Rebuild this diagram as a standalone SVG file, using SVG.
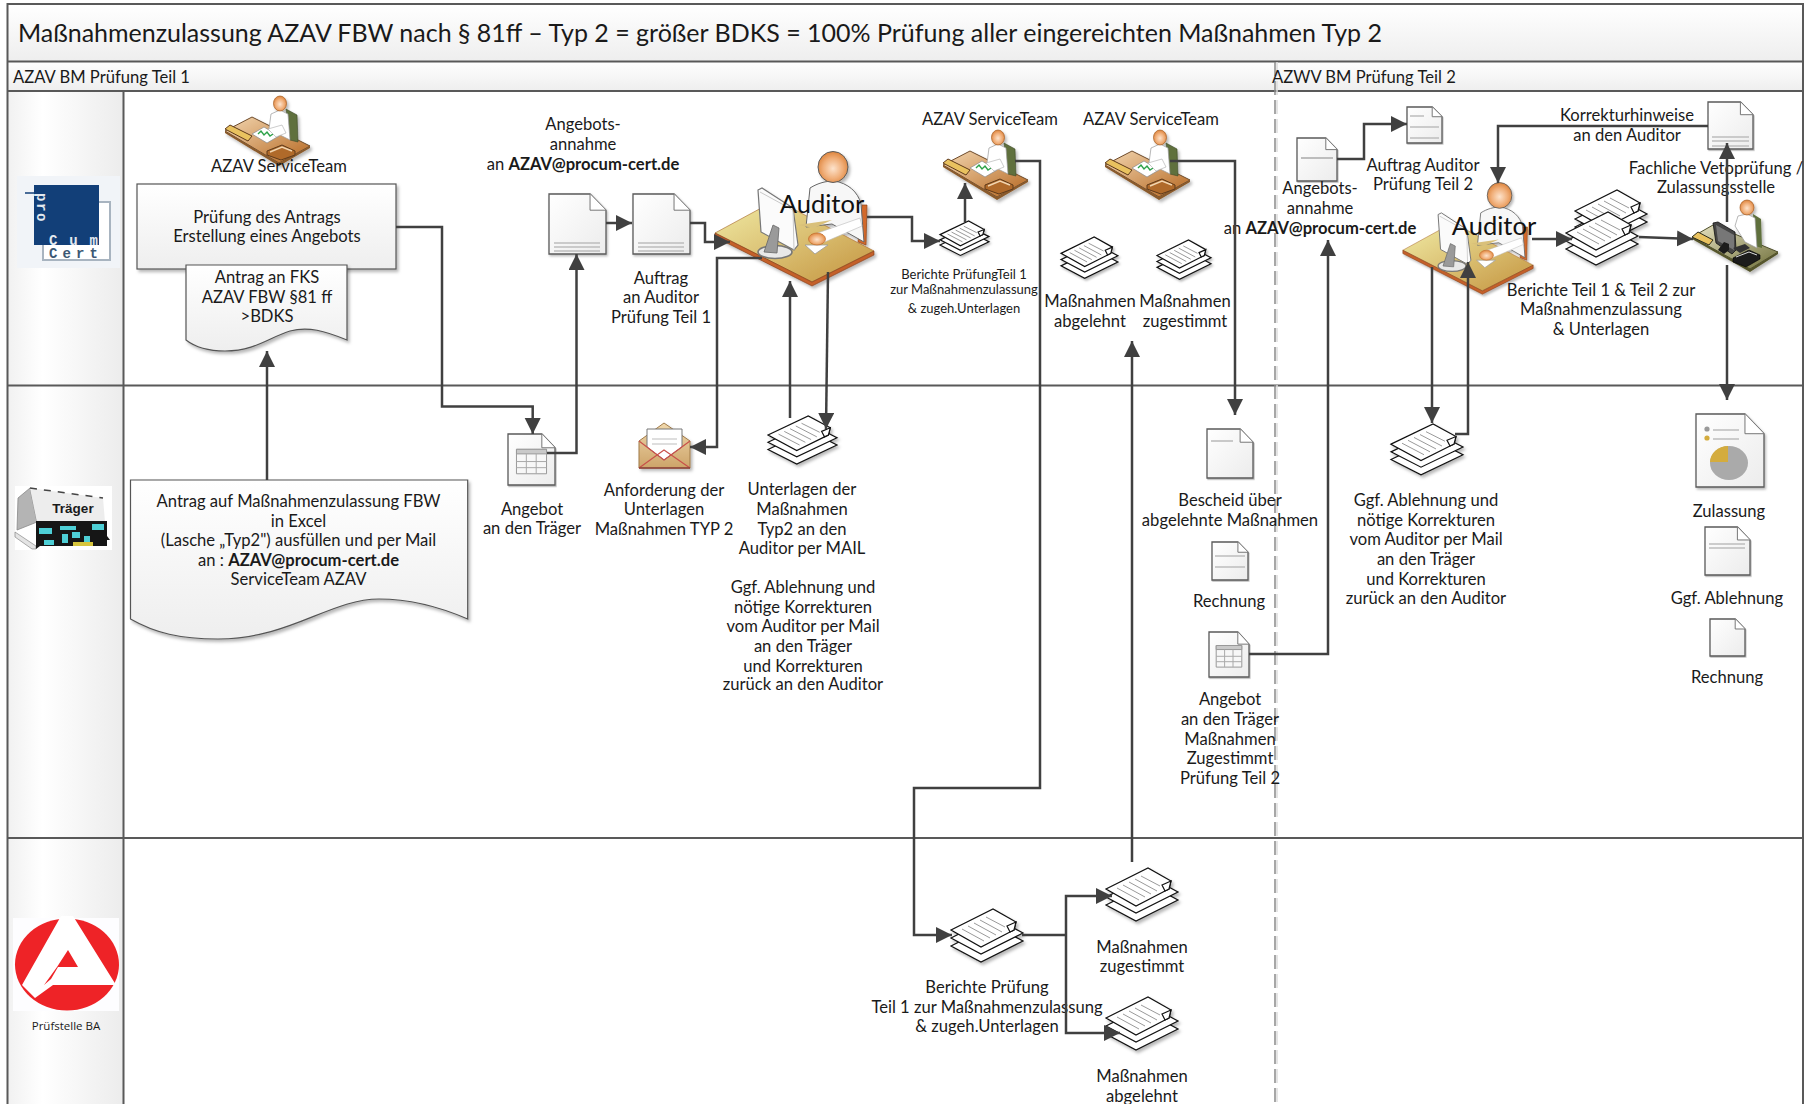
<svg xmlns="http://www.w3.org/2000/svg" width="1809" height="1104" viewBox="0 0 1809 1104">
<style>
text{font-family:Lato,"Open Sans","Liberation Sans",sans-serif;fill:#1a1a1a;font-size:16.6px;text-anchor:middle}
.l{text-anchor:start}
.b{font-weight:700}
.s{font-size:13px}
.au{font-size:25.5px;fill:#111}
.lane{fill:none;stroke:#595959;stroke-width:2}
.c{fill:none;stroke:#404040;stroke-width:2.5;marker-end:url(#ah)}
.n{fill:none;stroke:#404040;stroke-width:2.5}
.pg{fill:url(#gPage);stroke:#5a5a5a;stroke-width:1.3;vector-effect:non-scaling-stroke}
.fd{fill:#fff;stroke:#777;stroke-width:1;vector-effect:non-scaling-stroke}
.ln{stroke:#bdbdbd;stroke-width:2;vector-effect:non-scaling-stroke;fill:none}
.sh{stroke:#111;stroke-width:1.2;fill:#fff;vector-effect:non-scaling-stroke}
.sl{stroke:#9a9a9a;stroke-width:1;fill:none;vector-effect:non-scaling-stroke}
.ds{filter:url(#shadow)}
</style>
<defs>
<linearGradient id="gBar" x1="0" y1="0" x2="0" y2="1"><stop offset="0" stop-color="#fff"/><stop offset="1" stop-color="#eee"/></linearGradient>
<linearGradient id="gCol" x1="0" y1="0" x2="1" y2="0"><stop offset="0" stop-color="#f1f1f1"/><stop offset=".3" stop-color="#fff"/><stop offset="1" stop-color="#ececec"/></linearGradient>
<linearGradient id="gPage" x1="0" y1="0" x2="1" y2="1"><stop offset="0" stop-color="#fff"/><stop offset="1" stop-color="#ececec"/></linearGradient>
<linearGradient id="gDesk" x1="0" y1="0" x2="1" y2="1"><stop offset="0" stop-color="#f2d6b0"/><stop offset="1" stop-color="#b5661f"/></linearGradient>
<linearGradient id="gDeskA" x1="0" y1="0" x2="1" y2="1"><stop offset="0" stop-color="#f1eca6"/><stop offset="1" stop-color="#c4943f"/></linearGradient>
<linearGradient id="gDeskZ" x1="0" y1="0" x2="1" y2="1"><stop offset="0" stop-color="#e8e4c4"/><stop offset="1" stop-color="#6f6f3a"/></linearGradient>
<radialGradient id="gHead" cx=".5" cy=".55" r=".6"><stop offset="0" stop-color="#fde3cc"/><stop offset=".55" stop-color="#f0ae78"/><stop offset="1" stop-color="#d97a2e"/></radialGradient>
<linearGradient id="gEnv" x1="0" y1="0" x2="0" y2="1"><stop offset="0" stop-color="#f0d8ac"/><stop offset="1" stop-color="#cda469"/></linearGradient>
<filter id="shadow" x="-15%" y="-15%" width="135%" height="135%"><feDropShadow dx="2" dy="2.5" stdDeviation="1.5" flood-color="#000" flood-opacity=".28"/></filter>
<marker id="ah" markerUnits="userSpaceOnUse" markerWidth="18" markerHeight="17" refX="16" refY="8" orient="auto-start-reverse"><path d="M0 0L16 8L0 16Z" fill="#404040"/></marker>

<g id="page"><path class="pg" d="M0 0H72L100 27V100H0Z"/><path class="fd" d="M72 0V27H100"/></g>

<g id="stack">
<path class="sh" d="M0 37L42 16L72 32L30 53Z"/>
<path class="sh" d="M0 29L42 8L72 24L30 45Z"/>
<path class="sh" d="M0 21L42 0L65 13L63 21L59 23L30 38Z"/>
<path class="sh" d="M65 13L56 17L59 23L63 21Z"/>
<path class="sl" d="M11 20L33 32M17 17L39 29M23 14L45 26M29 11L51 23M35 8L54 18"/>
</g>

<g id="service">
<path d="M3 35L30 21L88 50L57 67Z" fill="url(#gDesk)" stroke="#6d4a2b" stroke-width="1"/>
<path d="M3 35L57 67L88 50L88 52L57 70L3 37Z" fill="#8a5a2b"/>
<path d="M64 13L75 19L76 46L68 44Z" fill="#5f6f3c" stroke="#3d4a28" stroke-width=".6"/>
<path d="M47 33L49 18L58 14L66 18L68 44L60 40Z" fill="#fff" stroke="#9a9a9a" stroke-width=".7"/>
<ellipse cx="58" cy="7.5" rx="6.5" ry="7.5" fill="url(#gHead)" stroke="#a35a1e" stroke-width=".7"/>
<path d="M3 33L8 29L30 40L26 45Z" fill="#e9c25f" stroke="#5e3a1a" stroke-width="1"/>
<path d="M30 38L42 31L57 40L45 47Z" fill="#fff" stroke="#888" stroke-width=".7"/>
<path d="M36 38L39 35L42 39L45 36L48 40L51 38" fill="none" stroke="#2da24a" stroke-width="1.4"/>
<path d="M46 33L60 29L64 37L54 41Z" fill="#fff" stroke="#aaa" stroke-width=".6"/>
<path d="M45 55L60 49L73 55L73 59L59 64L45 59Z" fill="#b06a2c" stroke="#5e3a1a" stroke-width="1"/>
<path d="M48 56L60 51L70 55" fill="none" stroke="#f2d6b0" stroke-width="1.4"/>
</g>

<g id="auditor">
<path d="M148 53L153 53L152 93L144 90Z" fill="#d2692c" stroke="#8d4418" stroke-width=".7"/>
<path d="M1 81L62 48L160 99L98 130Z" fill="url(#gDeskA)" stroke="#a5642a" stroke-width=".6"/>
<path d="M1 81L98 130L160 99L160 103L98 134L1 85Z" fill="#c4602a" stroke="#7d3b16" stroke-width=".6"/>
<path d="M92 75L96 36C104 31 112 29 120 29C134 31 144 40 147 52L150 90L118 72Z" fill="#f7f7f7" stroke="#666" stroke-width="1"/>
<path d="M84 73L118 68L100 76Z" fill="#d9c07a"/>
<path d="M146 66L148 74L106 92L98 83Z" fill="#fff" stroke="#bbb" stroke-width=".6"/>
<ellipse cx="119" cy="15" rx="15" ry="15.5" fill="url(#gHead)" stroke="#5b5b5b" stroke-width="1"/>
<path d="M91 93L114 93L101 102Z" fill="#fff" stroke="#999" stroke-width=".8"/>
<ellipse cx="103" cy="87" rx="8.5" ry="6" fill="url(#gHead)" stroke="#c26a2a" stroke-width=".7"/>
<ellipse cx="61" cy="100" rx="17" ry="6.5" fill="#e8e8e8" stroke="#777" stroke-width="1.6"/>
<path d="M44 38L48 36L79 56L84 93L80 98L47 80Z" fill="#fbfbfb" stroke="#777" stroke-width="1.2"/>
<path d="M46 40L79 58L80 98" fill="none" stroke="#c9c9c9" stroke-width="1"/>
<path d="M50 100L59 73L65 76L63 101Z" fill="#9a9a9a" stroke="#666" stroke-width=".8"/>
</g>

<g id="zul">
<path d="M1 37L22 25L87 52L59 69Z" fill="url(#gDeskZ)" stroke="#4d4d2a" stroke-width="1"/>
<path d="M1 37L59 69L87 52L87 54L59 72L1 39Z" fill="#55552c"/>
<path d="M62 14L70 19L71 48L64 46Z" fill="#5f6f3c"/>
<path d="M44 26L47 16L56 14L64 18L66 48L54 42Z" fill="#fff" stroke="#9a9a9a" stroke-width=".7"/>
<ellipse cx="56" cy="7.5" rx="7" ry="7.5" fill="url(#gHead)" stroke="#a35a1e" stroke-width=".7"/>
<path d="M1 37L7 32L22 40L18 45Z" fill="#e9c25f" stroke="#2a2a18" stroke-width="1"/>
<path d="M22 23L27 22L44 32L45 50L41 54L25 43Z" fill="#444" stroke="#111" stroke-width=".8"/>
<path d="M25 25L43 35L43 50L27 41Z" fill="#777"/>
<path d="M27 50L33 42L38 44L38 50L33 54Z" fill="#1a1a1a"/>
<path d="M42 48L54 44L59 48L49 53Z" fill="#333"/>
<path d="M42 58L58 50L69 55L69 59L55 67L42 62Z" fill="#1c1c1c" stroke="#000" stroke-width=".6"/>
<path d="M45 57L58 52L66 55" fill="none" stroke="#ddd" stroke-width="1"/>
</g>

<g id="grid"><rect x="18" y="30" width="64" height="48" fill="#f7f7f7" stroke="#999" vector-effect="non-scaling-stroke"/><rect x="18" y="30" width="64" height="9" fill="#c9c9c9" stroke="#999" vector-effect="non-scaling-stroke"/><path d="M18 54H82M18 66H82M39 39V78M60 39V78" stroke="#aaa" fill="none" vector-effect="non-scaling-stroke"/></g>
</defs>

<rect width="1809" height="1104" fill="#fff"/>

<g id="frame">
<rect x="7.5" y="4" width="1795.5" height="57.5" fill="url(#gBar)"/>
<rect x="7.5" y="61.5" width="1795.5" height="29.5" fill="url(#gBar)"/>
<rect x="7.5" y="91" width="116" height="1013" fill="url(#gCol)"/>
<path class="lane" d="M7.5 1104V4H1803V1104M7.5 61.5H1803M7.5 91H1803M123.5 91V1104M7.5 385.5H1803M7.5 838H1803"/>
<path d="M1277 62V1104" stroke="#ddd" stroke-width="1.5" stroke-dasharray="14 5" fill="none"/>
<path d="M1275 62V1104" stroke="#8a8a8a" stroke-width="1.5" stroke-dasharray="14 5" fill="none"/>
<text class="l" x="18" y="42" style="font-size:25.2px" textLength="1364" lengthAdjust="spacingAndGlyphs">Maßnahmenzulassung AZAV FBW nach § 81ff – Typ 2 = größer BDKS = 100% Prüfung aller eingereichten Maßnahmen Typ 2</text>
<text class="l" x="13" y="82.5">AZAV BM Prüfung Teil 1</text>
<text class="l" x="1272" y="82.5">AZWV BM Prüfung Teil 2</text>
</g>

<g id="logo-procum">
<rect x="17" y="176" width="103" height="92" fill="#f1f4f8"/>
<path d="M99 202H110V260H43V245" fill="#fff" stroke="#a8b4c0" stroke-width="2"/>
<rect x="34" y="185" width="65" height="60" fill="#123f78"/>
<path d="M25 193H35" stroke="#123f78" stroke-width="1.5"/>
<text transform="translate(37 193) rotate(90)" class="l b" style="font-size:14px;fill:#e3e9f0;letter-spacing:1.5px;font-family:'Liberation Mono',monospace" textLength="30">pro</text>
<text class="l b" x="49" y="245" style="font-family:'Liberation Mono',monospace;font-size:14px;fill:#e3e9f0" textLength="49">Cum</text>
<text class="l b" x="49" y="258" style="font-family:'Liberation Mono',monospace;font-size:14px;fill:#3c5874" textLength="49">Cert</text>
</g>

<g id="logo-traeger">
<rect x="15" y="486" width="97" height="64" fill="#fff"/>
<path d="M18 498L30 488L37 522L17 530Z" fill="#b4b4b4" stroke="#888" stroke-width=".8"/>
<path d="M30 488L103 498L105 522L37 522Z" fill="#ededed"/>
<path d="M30 488L103 498" stroke="#444" stroke-width="1.5" stroke-dasharray="7 7" fill="none"/>
<path d="M15 532L36 546L36 549H32L15 537Z" fill="#e4e4e4" stroke="#777" stroke-width=".6"/>
<path d="M36 521H107V536L110 540H107V546H40L36 549Z" fill="#161616"/>
<path d="M39 528H52V534H39ZM60 526H76V530H60ZM62 534H68V543H62ZM72 532H80V538H72ZM92 524H104V530H92ZM84 536H90V542H84ZM44 540H54V545H44Z" fill="#4ecfd6"/>
<path d="M73 542H93V546H73Z" fill="#d6c43c"/>
<text class="b" x="73" y="513" style="font-size:13.5px;font-family:'Liberation Sans',sans-serif">Träger</text>
</g>

<g id="logo-ba">
<rect x="13" y="918" width="106" height="93" fill="#fdfdff"/>
<ellipse cx="67" cy="964.5" rx="52" ry="46" fill="#ee2327"/>
<path d="M61 916H73L116 985H53L35 998L22 985Z" fill="#fff"/>
<path d="M68 950L78 967H58L51 979L44 985L57 967Z" fill="#ee2327"/>
<text x="66" y="1030" style="font-size:11.5px;font-family:'Open Sans',sans-serif">Prüfstelle BA</text>
</g>

<g id="n-service1"><use href="#service" transform="translate(222 96)" class="ds"/><text x="279" y="172">AZAV ServiceTeam</text></g>

<g id="n-pruefung"><rect x="137" y="184" width="259" height="85" fill="url(#gBar)" stroke="#555" stroke-width="1.2" class="ds"/><text x="267" y="223">Prüfung des Antrags</text><text x="267" y="242">Erstellung eines Angebots</text></g>

<g id="n-antrag-fks"><path d="M186 265H347V340C325 331 308 326 290 331C270 337 255 351 225 351C208 351 195 347 186 340Z" fill="url(#gBar)" stroke="#555" stroke-width="1.2" class="ds"/><text x="267" y="283">Antrag an FKS</text><text x="267" y="303">AZAV FBW §81 ff</text><text x="267" y="322">&gt;BDKS</text></g>

<g id="n-antrag"><path d="M130.5 480H467.7V619C440 607 410 599 379 599C330 599 290 639 218 639C180 639 155 633 130.5 619Z" fill="url(#gBar)" stroke="#555" stroke-width="1.2" class="ds"/><text x="298.5" y="507">Antrag auf Maßnahmenzulassung FBW</text><text x="298.5" y="527">in Excel</text><text x="298.5" y="546">(Lasche „Typ2")  ausfüllen und per Mail</text><text x="298.5" y="566">an : <tspan class="b">AZAV@procum-cert.de</tspan></text><text x="298.5" y="585">ServiceTeam AZAV</text></g>

<g id="n-annahme1"><use href="#page" class="ds" transform="translate(549 194) scale(.57 .6)"/><path class="ln" d="M554 243H600M554 247H600M554 251H600" style="stroke-width:1.3"/><text x="583" y="130">Angebots-</text><text x="583" y="150">annahme</text><text x="583" y="170">an <tspan class="b">AZAV@procum-cert.de</tspan></text></g>

<g id="n-auftrag1"><use href="#page" class="ds" transform="translate(633 194) scale(.57 .6)"/><path class="ln" d="M638 243H684M638 247H684M638 251H684" style="stroke-width:1.3"/><text x="661" y="284">Auftrag</text><text x="661" y="303">an Auditor</text><text x="661" y="323">Prüfung Teil 1</text></g>

<g id="n-angebot1"><use href="#page" class="ds" transform="translate(508 434) scale(.47 .51)"/><use href="#grid" transform="translate(508 434) scale(.47 .51)"/><text x="532" y="515">Angebot</text><text x="532" y="534">an den Träger</text></g>

<g id="n-anforderung"><path d="M639 441L664 423L690 441V468H639Z" fill="url(#gEnv)" stroke="#a07a48" class="ds"/><path d="M647 429H682V447L664 460L647 447Z" fill="#fff" stroke="#777"/><path class="ln" d="M652 439H677M652 444H677" style="stroke-width:1.2"/><path d="M639 441L664 460L690 441M639 468L664 450L690 468" fill="none" stroke="#c9504a" stroke-width="1.2"/><path d="M639 468H690" stroke="#8d3f38" stroke-width="1.5"/><text x="664" y="496">Anforderung der</text><text x="664" y="515">Unterlagen</text><text x="664" y="535">Maßnahmen TYP 2</text></g>

<g id="n-unterlagen"><use href="#stack" class="ds" transform="translate(768 416) scale(.958 .907)"/><text x="802" y="495">Unterlagen der</text><text x="802" y="515">Maßnahmen</text><text x="802" y="535">Typ2 an den</text><text x="802" y="554">Auditor per MAIL</text><text x="803" y="593">Ggf. Ablehnung und</text><text x="803" y="613">nötige Korrekturen</text><text x="803" y="632">vom Auditor per Mail</text><text x="803" y="652">an den Träger</text><text x="803" y="672">und Korrekturen</text><text x="803" y="690">zurück an den Auditor</text></g>

<g id="n-auditor1"><use href="#auditor" class="ds" transform="translate(714 152)"/><text class="au" x="822" y="213">Auditor</text></g>

<g id="n-service2"><use href="#service" class="ds" transform="translate(940 130)"/><text x="990" y="125">AZAV ServiceTeam</text></g>

<g id="n-berichte1"><use href="#stack" class="ds" transform="translate(940 221) scale(.68 .65)"/><text class="s" x="964" y="279">Berichte PrüfungTeil 1</text><text class="s" x="964" y="294">zur Maßnahmenzulassung</text><text class="s" x="964" y="313">&amp; zugeh.Unterlagen</text></g>

<g id="n-service3"><use href="#service" class="ds" transform="translate(1102 130)"/><text x="1151" y="125">AZAV ServiceTeam</text></g>

<g id="n-abg1"><use href="#stack" class="ds" transform="translate(1061 237) scale(.79 .78)"/><text x="1090" y="307">Maßnahmen</text><text x="1090" y="327">abgelehnt</text></g>

<g id="n-zug1"><use href="#stack" class="ds" transform="translate(1157 240) scale(.75 .74)"/><text x="1185" y="307">Maßnahmen</text><text x="1185" y="327">zugestimmt</text></g>

<g id="n-annahme2"><use href="#page" class="ds" transform="translate(1297 138) scale(.4 .43)"/><path class="ln" d="M1301 158H1333"/><text x="1320" y="194">Angebots-</text><text x="1320" y="214">annahme</text><text x="1320" y="234">an <tspan class="b">AZAV@procum-cert.de</tspan></text></g>

<g id="n-auftrag2"><use href="#page" class="ds" transform="translate(1407 107) scale(.35 .36)"/><path class="ln" d="M1410 116H1424M1410 127H1439M1410 138H1439" style="stroke-width:1.5"/><text x="1423" y="171">Auftrag Auditor</text><text x="1423" y="190">Prüfung Teil 2</text></g>

<g id="n-korrektur"><use href="#page" class="ds" transform="translate(1708 102) scale(.45 .47)"/><path class="ln" d="M1712 137H1749M1712 141H1749M1712 146H1749" style="stroke-width:1.3"/><text x="1627" y="121">Korrekturhinweise</text><text x="1627" y="141">an den Auditor</text></g>

<g id="n-auditor2"><use href="#auditor" class="ds" transform="translate(1402 183) scale(.82 .83)"/><text class="au" x="1494" y="235">Auditor</text></g>

<g id="n-berichte2"><use href="#stack" class="ds" transform="translate(1575 190) scale(1 1)"/><use href="#stack" class="ds" transform="translate(1566 212)"/><text x="1601" y="296">Berichte Teil 1 &amp; Teil 2 zur</text><text x="1601" y="315">Maßnahmenzulassung</text><text x="1601" y="335">&amp; Unterlagen</text></g>

<g id="n-zulassungsstelle"><use href="#zul" class="ds" transform="translate(1691 200)"/><text x="1716" y="174">Fachliche Vetoprüfung /</text><text x="1716" y="193">Zulassungsstelle</text></g>

<g id="n-bescheid"><use href="#page" class="ds" transform="translate(1207 429) scale(.46 .49)"/><path class="ln" d="M1211 441H1233" style="stroke-width:1.6"/><text x="1230" y="506">Bescheid über</text><text x="1230" y="526">abgelehnte Maßnahmen</text></g>

<g id="n-rechnung1"><use href="#page" class="ds" transform="translate(1212 542) scale(.36 .38)"/><path class="ln" d="M1215 556H1245M1215 567H1245" style="stroke-width:1.5"/><text x="1229" y="607">Rechnung</text></g>

<g id="n-angebot2"><use href="#page" class="ds" transform="translate(1209 632) scale(.4 .45)"/><use href="#grid" transform="translate(1209 632) scale(.4 .45)"/><text x="1230" y="705">Angebot</text><text x="1230" y="725">an den Träger</text><text x="1230" y="745">Maßnahmen</text><text x="1230" y="764">Zugestimmt</text><text x="1230" y="784">Prüfung Teil 2</text></g>

<g id="n-ablehnung2"><use href="#stack" class="ds" transform="translate(1391 424) scale(1 .96)"/><text x="1426" y="506">Ggf. Ablehnung und</text><text x="1426" y="526">nötige Korrekturen</text><text x="1426" y="545">vom Auditor per Mail</text><text x="1426" y="565">an den Träger</text><text x="1426" y="585">und Korrekturen</text><text x="1426" y="604">zurück an den Auditor</text></g>

<g id="n-zulassung"><use href="#page" class="ds" transform="translate(1696 414) scale(.68 .73)"/><circle cx="1707" cy="429" r="2.6" fill="#999"/><circle cx="1707" cy="438" r="2.6" fill="#d4ac3e"/><path class="ln" d="M1713 430H1739M1713 439H1739" style="stroke-width:1.4"/><ellipse cx="1729" cy="463" rx="19" ry="17" fill="#aaa"/><path d="M1728 446V462H1710A18 16 0 0 1 1728 446Z" fill="#d4ac3e"/><text x="1729" y="517">Zulassung</text></g>

<g id="n-ablehnung3"><use href="#page" class="ds" transform="translate(1705 527) scale(.45 .48)"/><path class="ln" d="M1709 544H1745M1709 548H1745" style="stroke-width:1.4"/><text x="1727" y="604">Ggf. Ablehnung</text></g>

<g id="n-rechnung2"><use href="#page" class="ds" transform="translate(1710 619) scale(.35 .37)"/><text x="1727" y="683">Rechnung</text></g>

<g id="n-berichte3"><use href="#stack" class="ds" transform="translate(951 909)"/><text x="987" y="993">Berichte Prüfung</text><text x="987" y="1013">Teil 1 zur Maßnahmenzulassung</text><text x="987" y="1032">&amp; zugeh.Unterlagen</text></g>

<g id="n-zug2"><use href="#stack" class="ds" transform="translate(1106 868)"/><text x="1142" y="953">Maßnahmen</text><text x="1142" y="972">zugestimmt</text></g>

<g id="n-abg2"><use href="#stack" class="ds" transform="translate(1106 997)"/><text x="1142" y="1082">Maßnahmen</text><text x="1142" y="1102">abgelehnt</text></g>

<g id="connectors">
<path class="c" d="M267 480V351"/>
<path class="c" d="M396 227H442V406.5H532.7V434"/>
<path class="c" d="M547 453H576.5V254"/>
<path class="c" d="M606 223H632"/>
<path class="c" d="M690 223H705V242H730"/>
<path class="c" d="M762 258H717V447H690"/>
<path class="c" d="M790 418V281"/>
<path class="c" d="M828 272L826 429"/>
<path class="c" d="M867 217H912V241H940"/>
<path class="c" d="M965 222V183"/>
<path class="c" d="M1015 161H1040V788H914V935H952"/>
<path class="n" d="M1022 935H1066"/>
<path class="c" d="M1066 935V896H1112"/>
<path class="c" d="M1066 935V1033H1120"/>
<path class="c" d="M1132 862V341"/>
<path class="c" d="M1170 161H1235V415"/>
<path class="c" d="M1249 654H1328V240"/>
<path class="c" d="M1337 159H1364V124H1407"/>
<path class="c" d="M1708 126H1498V183"/>
<path class="c" d="M1532 239H1572"/>
<path class="c" d="M1639 237L1693 239"/>
<path class="c" d="M1727 222V143"/>
<path class="c" d="M1727 265V400"/>
<path class="c" d="M1432 267V423"/>
<path class="c" d="M1455 434H1468V262"/>
</g>
</svg>
